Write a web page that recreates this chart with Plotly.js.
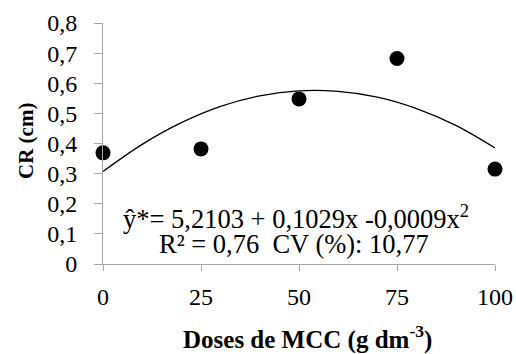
<!DOCTYPE html>
<html>
<head>
<meta charset="utf-8">
<script src="https://cdn.plot.ly/plotly-3.0.1.min.js"></script>
<style>html,body{margin:0;padding:0;background:#fff;}</style>
</head>
<body>
<div id="chart"></div>
<script>
// Observed means
const doses = [0, 25, 50, 75, 100];
const crValues = [0.369, 0.382, 0.548, 0.682, 0.315];

// Fitted curve
const curveX = [0, 10, 20, 30, 40, 50, 60, 70, 80, 90, 100];
const curveY = [0.307, 0.397, 0.469, 0.523, 0.558, 0.575, 0.573, 0.554, 0.516, 0.460, 0.385];

// Tick labels
const xTickVals = [0, 25, 50, 75, 100];
const xTickText = ['0', '25', '50', '75', '100'];
const yTickVals = [0, 0.1, 0.2, 0.3, 0.4, 0.5, 0.6, 0.7, 0.8];
const yTickText = ['0', '0,1', '0,2', '0,3', '0,4', '0,5', '0,6', '0,7', '0,8'];

const eqLine1 = 'ŷ*= 5,2103 + 0,1029x -0,0009x<sup>2</sup>';
const eqLine2 = 'R² = 0,76 \u00a0CV (%): 10,77';

const FAM = 'Liberation Serif';

const traces = [
  {
    x: curveX, y: curveY, mode: 'lines', type: 'scatter',
    line: {color: '#000', width: 1.3, shape: 'spline'},
    hoverinfo: 'skip', cliponaxis: false
  },
  {
    x: doses, y: crValues, mode: 'markers', type: 'scatter',
    marker: {color: '#000', size: 15},
    cliponaxis: false
  }
];

const plotL = 103, plotR = 21, plotT = 23, plotB = 90;
const W = 516, H = 354;
const plotH = H - plotT - plotB, plotW = W - plotL - plotR;

const layout = {
  width: W, height: H,
  margin: {l: plotL, r: plotR, t: plotT, b: plotB},
  paper_bgcolor: '#fff', plot_bgcolor: '#fff',
  showlegend: false,
  xaxis: {
    range: [0, 100], tickvals: xTickVals, ticktext: xTickText,
    showgrid: false, zeroline: false,
    showline: true, linecolor: '#a6a6a6', linewidth: 1,
    ticks: 'outside', ticklen: 6, tickcolor: '#a6a6a6', tickwidth: 1,
    ticklabelstandoff: 5,
    tickfont: {family: FAM, size: 24, color: '#000'},
    title: {text: ''}
  },
  yaxis: {
    range: [0, 0.8], tickvals: yTickVals, ticktext: yTickText,
    showgrid: false, zeroline: false,
    showline: true, linecolor: '#a6a6a6', linewidth: 1,
    ticks: 'outside', ticklen: 8, tickcolor: '#a6a6a6', tickwidth: 1,
    ticklabelstandoff: 12,
    tickfont: {family: FAM, size: 24, color: '#000'},
    title: {text: ''}
  },
  annotations: [
    {x: (296 - plotL) / plotW, y: 1 - (217 - plotT) / plotH, xref: 'paper', yref: 'paper', text: eqLine1, showarrow: false,
     font: {family: FAM, size: 26.5, color: '#000'}, xanchor: 'center', yanchor: 'middle'},
    {x: (294 - plotL) / plotW, y: 1 - (244 - plotT) / plotH, xref: 'paper', yref: 'paper', text: eqLine2, showarrow: false,
     font: {family: FAM, size: 26.5, color: '#000'}, xanchor: 'center', yanchor: 'middle'},
    {x: (307 - plotL) / plotW, y: 1 - (337 - plotT) / plotH, xref: 'paper', yref: 'paper',
     text: '<b>Doses de MCC (g dm<sup>-3</sup>)</b>', showarrow: false,
     font: {family: FAM, size: 25, color: '#000'}, xanchor: 'center', yanchor: 'middle'},
    {x: (26 - plotL) / plotW, y: 1 - (141 - plotT) / plotH, xref: 'paper', yref: 'paper',
     text: '<b>CR (cm)</b>', showarrow: false, textangle: -90,
     font: {family: FAM, size: 21, color: '#000'}, xanchor: 'center', yanchor: 'middle'}
  ]
};

Plotly.newPlot('chart', traces, layout, {displayModeBar: false, staticPlot: true});
</script>
</body>
</html>
